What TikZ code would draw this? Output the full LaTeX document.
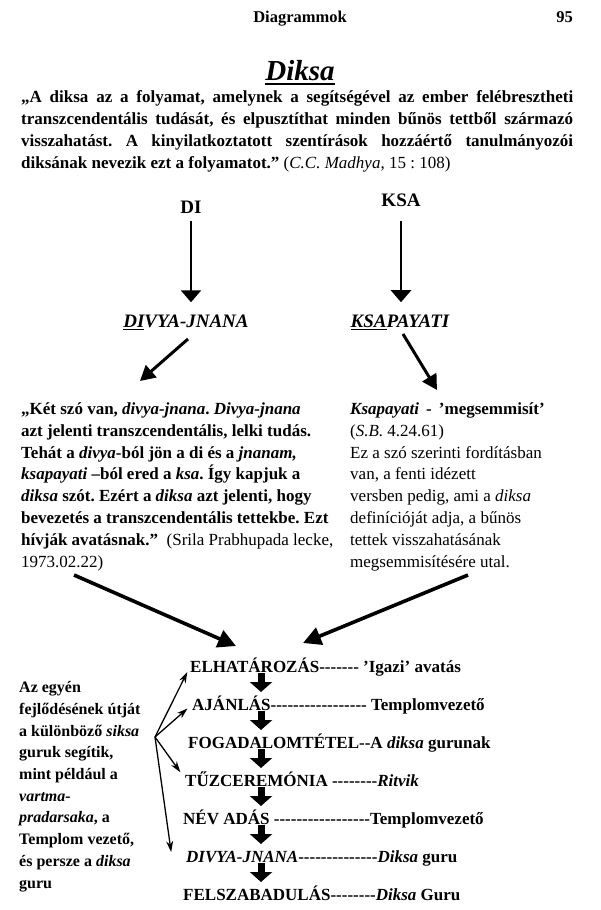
\documentclass[tikz,border=0pt]{standalone}
\usepackage{fontspec}
\setmainfont{Liberation Serif}
\usetikzlibrary{arrows.meta,positioning}
\frenchspacing

\newcommand\hy[1]{\foreach \i in {1,...,#1}{-}}
\newcommand\undl[3]{\setbox0\hbox{#3}\rlap{\rule[-#1]{\wd0}{#2}}\box0}

\tikzset{
  hdr/.style={inner sep=0pt, font=\fontsize{16.5}{20}\selectfont\bfseries},
  root/.style={inner sep=0pt, anchor=base, font=\fontsize{19}{22}\selectfont\bfseries},
  word/.style={inner sep=0pt, anchor=base, font=\fontsize{19}{22}\selectfont\bfseries\itshape},
  parabox/.style={inner sep=0pt, anchor=base west, align=left, font=\fontsize{17}{21.8}\selectfont\bfseries},
  stepitem/.style={inner sep=0pt, anchor=base west, font=\fontsize{17}{20}\selectfont\bfseries},
  downarrow/.style={line width=2.6pt, -{Triangle[width=20pt,length=12pt]}},
  slantarrow/.style={line width=3pt, -{Triangle[width=16pt,length=15pt]}},
  bigarrow/.style={line width=3.6pt, -{Triangle[width=18pt,length=18pt]}},
  fatarrow/.style={line width=7pt, -{Triangle[width=22pt,length=10pt]}},
  fanarrow/.style={line width=1.3pt, -{Stealth[width=7pt,length=11pt]}},
}

\begin{document}
\begin{tikzpicture}[x=1pt,y=-1pt]
\useasboundingbox (0,0) rectangle (600,910);

% page head and title
\node[hdr,anchor=base] (head) at (300,22) {Diagrammok};
\node[hdr,anchor=base east] (page) at (573,22) {95};
\node[inner sep=0pt,anchor=base,font=\fontsize{29}{32}\selectfont\bfseries\itshape] (title) at (300,80) {\undl{4.5pt}{1.8pt}{Diksa}};

% quote (base = last line)
\node[parabox] (quote) at (21,168) {%
\makebox[552pt][s]{„A diksa az a folyamat, amelynek a segítségével az ember felébresztheti}\\
\makebox[552pt][s]{transzcendentális tudását, és elpusztíthat minden bűnös tettből származó}\\
\makebox[552pt][s]{visszahatást. A kinyilatkoztatott szentírások hozzáértő tanulmányozói}\\
diksának nevezik ezt a folyamatot.” {\mdseries (\textit{C.C. Madhya}, 15 : 108)}};

% roots
\node[root] (di) at (191,213) {DI};
\node[root] (ksa) at (401,206) {KSA};
\node[word] (dj) at (186,327) {\undl{3pt}{1.3pt}{DI}VYA-JNANA};
\node[word] (kp) at (400,327) {\undl{3pt}{1.3pt}{KSA}PAYATI};

\draw[downarrow,shorten <=8pt,shorten >=12pt] (di.south) -- (di.south |- dj.north);
\draw[downarrow,shorten <=15pt,shorten >=12pt] (ksa.south) -- (ksa.south |- kp.north);

% explanations
\node[parabox] (lp) at (21,567) {„Két szó van, \textit{divya-jnana}. \textit{Divya-jnana}\\
azt jelenti transzcendentális, lelki tudás.\\
Tehát a \textit{divya}-ból jön a di és a \textit{jnanam,}\\
\textit{ksapayati} –ból ered a \textit{ksa}. Így kapjuk a\\
\textit{diksa} szót. Ezért a \textit{diksa} azt jelenti, hogy\\
bevezetés a transzcendentális tettekbe. Ezt\\
hívják avatásnak.”\ \ {\mdseries (Srila Prabhupada lecke,}\\
{\mdseries 1973.02.22)}};
\node[parabox,font=\fontsize{17}{21.8}\selectfont] (rp) at (350,567) {\textbf{\textit{Ksapayati} \,-\, ’megsemmisít’}\\
(\textit{S.B.} 4.24.61)\\
Ez a szó szerinti fordításban\\
van, a fenti idézett\\
versben pedig, ami a \textit{diksa}\\
definícióját adja, a bűnös\\
tettek visszahatásának\\
megsemmisítésére utal.};

\coordinate (djout) at (188,339);
\coordinate (lpin) at (140,381);
\coordinate (kpout) at (403,334);
\coordinate (rpin) at (437,390);
\draw[slantarrow] (djout) -- (lpin);
\draw[slantarrow] (kpout) -- (rpin);

\coordinate (lpout) at (74,575);
\coordinate (rpout) at (468,575);
\coordinate (joinl) at (236,646);
\coordinate (joinr) at (303,643);
\draw[bigarrow] (lpout) -- (joinl);
\draw[bigarrow] (rpout) -- (joinr);

% steps
\node[stepitem] (e1) at (190,672) {ELHATÁROZÁS\hy{7} ’Igazi’ avatás};
\node[stepitem] (e2) at (192,710) {AJÁNLÁS\hy{17} Templomvezető};
\node[stepitem] (e3) at (188,748) {FOGADALOMTÉTEL\hy{2}A \textit{diksa} gurunak};
\node[stepitem] (e4) at (185,786) {TŰZCEREMÓNIA \hy{8}\textit{Ritvik}};
\node[stepitem] (e5) at (183,824) {NÉV ADÁS \hy{17}Templomvezető};
\node[stepitem] (e6) at (186,862) {\textit{DIVYA-JNANA}\hy{14}\textit{Diksa} guru};
\node[stepitem] (e7) at (183,900) {FELSZABADULÁS\hy{8}\textit{Diksa} Guru};

\coordinate (ax) at (261,0);
\foreach \a/\b in {e1/e2,e2/e3,e3/e4,e4/e5,e5/e6,e6/e7}
  \draw[fatarrow,shorten <=1pt,shorten >=18pt] (ax |- \a.base) -- (ax |- \b.base);

% side note (base = last line)
\node[parabox,font=\fontsize{16}{21.7}\selectfont\bfseries] (gurus) at (19,888) {Az egyén\\
fejlődésének útját\\
a különböző \textit{siksa}\\
guruk segítik,\\
mint például a\\
\textit{vartma-}\\
\textit{pradarsaka}, a\\
Templom vezető,\\
és persze a \textit{diksa}\\
guru};

\coordinate (fan) at (155,737);
\draw[fanarrow,shorten >=6pt] (fan) -- (e1.west);
\draw[fanarrow,shorten >=6pt] (fan) -- (e2.west);
\draw[fanarrow,shorten >=8pt] (fan) -- (e4.west);
\draw[fanarrow,shorten >=6pt] (fan) -- ([xshift=-14pt]e6.west);
\end{tikzpicture}
\end{document}
